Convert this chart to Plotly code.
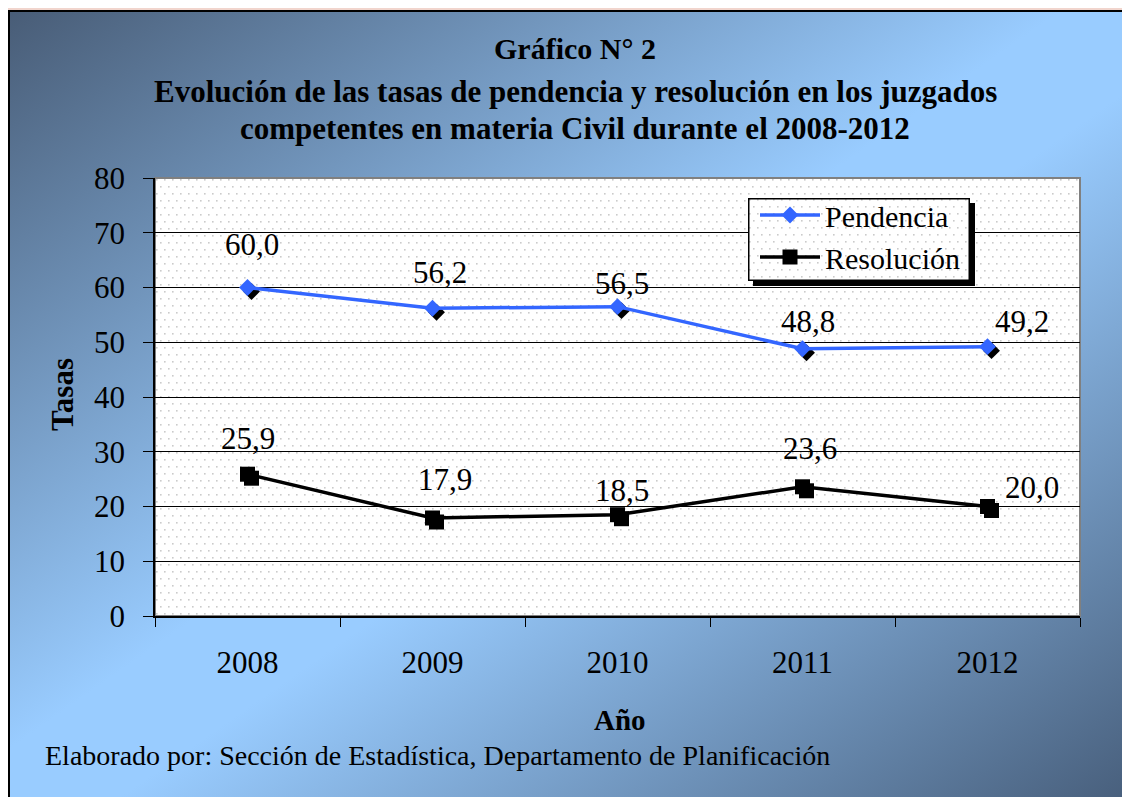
import base64
import plotly.graph_objects as go

# ---------------- data ----------------
years = [2008, 2009, 2010, 2011, 2012]
pendencia = [60.0, 56.2, 56.5, 48.8, 49.2]
resolucion = [25.9, 17.9, 18.5, 23.6, 20.0]
y_ticks = [0, 10, 20, 30, 40, 50, 60, 70, 80]

title_lines = [
    "Gráfico N° 2",
    "Evolución de las tasas de pendencia y resolución en los juzgados",
    "competentes en materia Civil durante el 2008-2012",
]
source_text = "Elaborado por: Sección de Estadística, Departamento de Planificación"

# ---------------- layout geometry ----------------
# the page draws the figure 8px in from the top-left corner
OFF = 8
W, H = 1122, 789
L, R, T, B = 147, 50, 170, 181
PW, PH = W - L - R, H - T - B
YMAX = 80
FONT = "Liberation Serif, Times New Roman, serif"
BLUE = "#3366FF"

# label offsets (pixels) per point
pend_dx = [4, 7, 4, 5, 34]
pend_dy = [43, 36, 23, 27, 25]
res_dx = [0, 12, 4, 7, 44]
res_dy = [36, 39, 24, 38, 19]


def px(x):
    """screen x (reference pixels) -> paper"""
    return (x - OFF - L) / PW


def py(y):
    """screen y (reference pixels) -> paper"""
    return (H - B - (y - OFF)) / PH


def svg_uri(svg):
    return "data:image/svg+xml;base64," + base64.b64encode(svg.encode("utf-8")).decode()


def fmt(v):
    return f"{v:.1f}".replace(".", ",")


# background gradient
gw, gh = 1130 - 8, 797 - 10
grad_svg = (
    f"<svg xmlns='http://www.w3.org/2000/svg' width='{gw}' height='{gh}' viewBox='0 0 {gw} {gh}' preserveAspectRatio='none'>"
    "<defs><linearGradient id='g' x1='0' y1='0' x2='1' y2='1'>"
    "<stop offset='0' stop-color='#485c76'/>"
    "<stop offset='0.47' stop-color='#99ccff'/>"
    "<stop offset='0.55' stop-color='#99ccff'/>"
    "<stop offset='1' stop-color='#485f7c'/>"
    "</linearGradient></defs>"
    f"<rect width='{gw}' height='{gh}' fill='url(#g)'/></svg>"
)


def dots_svg(w, h, shadow=0, border=False):
    s = (
        f"<svg xmlns='http://www.w3.org/2000/svg' width='{w + shadow}' height='{h + shadow}' viewBox='0 0 {w + shadow} {h + shadow}' preserveAspectRatio='none'>"
        "<defs><pattern id='p' width='8' height='14' patternUnits='userSpaceOnUse'>"
        "<rect width='8' height='14' fill='white'/>"
        "<rect x='1' y='1' width='1.6' height='1.6' fill='#cbcbcb'/>"
        "<rect x='5' y='8' width='1.6' height='1.6' fill='#cbcbcb'/>"
        "</pattern></defs>"
    )
    if shadow:
        s += f"<rect x='{shadow}' y='{shadow}' width='{w}' height='{h}' fill='black'/>"
    s += f"<rect x='0' y='0' width='{w}' height='{h}' fill='url(#p)'/>"
    if border:
        s += f"<rect x='0.75' y='0.75' width='{w - 1.5}' height='{h - 1.5}' fill='none' stroke='black' stroke-width='1.5'/>"
    s += "</svg>"
    return s


fig = go.Figure()

XR = [years[0] - 0.5, years[-1] + 0.5]
# shadows (on base axes, shifted by a few pixels)
dxu = 4 * (XR[1] - XR[0]) / PW
dyu = 4 * YMAX / PH
fig.add_trace(go.Scatter(x=years, y=pendencia, mode="markers", xaxis="x", yaxis="y",
                         marker=dict(symbol="diamond", size=13, color="black"),
                         showlegend=False, hoverinfo="skip"))
fig.add_trace(go.Scatter(x=years, y=resolucion, mode="markers", xaxis="x", yaxis="y",
                         marker=dict(symbol="square", size=15, color="black"),
                         showlegend=False, hoverinfo="skip"))

# main series
fig.add_trace(go.Scatter(x=years, y=pendencia, name="Pendencia", mode="lines+markers",
                         xaxis="x2", yaxis="y2",
                         line=dict(color=BLUE, width=3.5),
                         marker=dict(symbol="diamond", size=13, color=BLUE)))
fig.add_trace(go.Scatter(x=years, y=resolucion, name="Resolución", mode="lines+markers",
                         xaxis="x2", yaxis="y2",
                         line=dict(color="black", width=3.5),
                         marker=dict(symbol="square", size=15, color="black")))

annotations = []
for i, yr in enumerate(years):
    annotations.append(dict(x=yr, y=pendencia[i], xref="x2", yref="y2", text=fmt(pendencia[i]),
                            showarrow=False, xshift=pend_dx[i], yshift=pend_dy[i],
                            font=dict(family=FONT, size=31, color="black")))
    annotations.append(dict(x=yr, y=resolucion[i], xref="x2", yref="y2", text=fmt(resolucion[i]),
                            showarrow=False, xshift=res_dx[i], yshift=res_dy[i],
                            font=dict(family=FONT, size=31, color="black")))

title_y = [49, 92, 128]
title_sizes = [30, 31, 31]
for t, yy, fs in zip(title_lines, title_y, title_sizes):
    annotations.append(dict(x=px(575), y=py(yy), xref="paper", yref="paper", text=f"<b>{t}</b>",
                            showarrow=False, xanchor="center", yanchor="middle",
                            font=dict(family=FONT, size=fs, color="black")))

annotations.append(dict(x=px(62), y=py(395), xref="paper", yref="paper", text="<b>Tasas</b>",
                        textangle=-90, showarrow=False, xanchor="center", yanchor="middle",
                        font=dict(family=FONT, size=31, color="black")))
annotations.append(dict(x=px(620), y=py(720), xref="paper", yref="paper", text="<b>Año</b>",
                        showarrow=False, xanchor="center", yanchor="middle",
                        font=dict(family=FONT, size=29, color="black")))
annotations.append(dict(x=px(43), y=py(755), xref="paper", yref="paper", text=source_text,
                        showarrow=False, xanchor="left", yanchor="middle",
                        font=dict(family=FONT, size=28, color="black")))

leg_x0, leg_y0, leg_w, leg_h = 748, 198, 222, 83
images = [
    dict(source=svg_uri(grad_svg), xref="paper", yref="paper", x=px(8), y=py(10),
         sizex=gw / PW, sizey=gh / PH, sizing="stretch", layer="below",
         xanchor="left", yanchor="top"),
    dict(source=svg_uri(dots_svg(PW, PH)), xref="paper", yref="paper", x=0, y=1,
         sizex=1, sizey=1, sizing="stretch", layer="below", xanchor="left", yanchor="top"),
    dict(source=svg_uri(dots_svg(leg_w, leg_h, shadow=5, border=True)), xref="paper", yref="paper",
         x=px(leg_x0), y=py(leg_y0), sizex=(leg_w + 5) / PW, sizey=(leg_h + 5) / PH,
         sizing="stretch", layer="above", xanchor="left", yanchor="top"),
]

shapes = [
    # outer black border of the slide chart
    dict(type="rect", xref="paper", yref="paper", x0=px(9), y0=py(805), x1=px(1140), y1=py(11),
         line=dict(color="black", width=2), fillcolor="rgba(0,0,0,0)", layer="below"),
    # grey plot frame
    dict(type="rect", xref="paper", yref="paper", x0=0, y0=0, x1=1, y1=1,
         line=dict(color="#808080", width=2), fillcolor="rgba(0,0,0,0)", layer="below"),
]

boundaries = [y - 0.5 for y in years] + [years[-1] + 0.5]

fig.update_layout(
    width=W, height=H,
    margin=dict(l=L, r=R, t=T, b=B, pad=0),
    paper_bgcolor="#f1d5cd",
    plot_bgcolor="rgba(0,0,0,0)",
    font=dict(family=FONT, size=31, color="black"),
    xaxis=dict(range=[XR[0] - dxu, XR[1] - dxu], visible=False),
    yaxis=dict(range=[0 + dyu, YMAX + dyu], visible=False),
    xaxis2=dict(overlaying="x", anchor="y2", side="bottom",
                range=XR, tickmode="array", tickvals=years, ticktext=[str(y) for y in years],
                ticks="", showgrid=False,
                minor=dict(tickmode="array", tickvals=boundaries, ticks="outside", ticklen=9,
                           tickcolor="black", tickwidth=1, showgrid=False),
                showline=True, linecolor="black", linewidth=2,
                tickfont=dict(family=FONT, size=31), ticklabelstandoff=18),
    yaxis2=dict(overlaying="y", anchor="x2", side="left", range=[0, YMAX],
                tickvals=y_ticks, ticks="outside", ticklen=10, tickcolor="black",
                showgrid=True, gridcolor="black", gridwidth=1, zeroline=False,
                showline=True, linecolor="black", linewidth=1.5,
                tickfont=dict(family=FONT, size=31), ticklabelstandoff=12),
    legend=dict(x=px(755), y=py(leg_y0 - 9), xanchor="left", yanchor="top",
                bgcolor="rgba(0,0,0,0)", borderwidth=0,
                font=dict(family=FONT, size=30, color="black"),
                itemwidth=60, tracegroupgap=0),
    annotations=annotations,
    images=images,
    shapes=shapes,
)

fig.write_html("out.html")
